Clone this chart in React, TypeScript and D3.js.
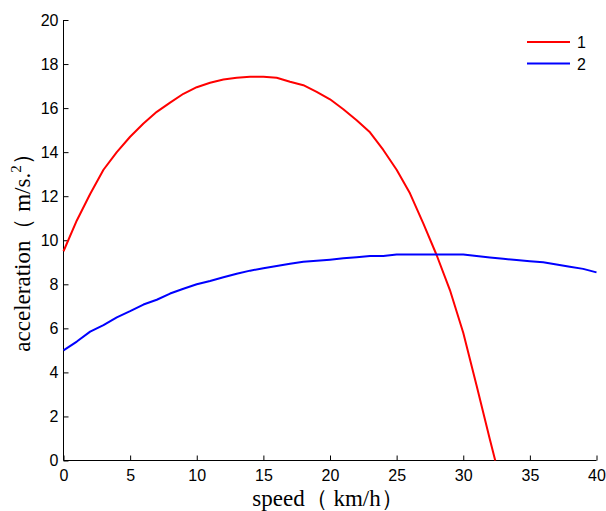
import React, { useRef, useEffect } from 'react'
import * as d3 from 'd3'

const speed1 = [0, 1, 2, 3, 4, 5, 6, 7, 8, 9, 10, 11, 12, 13, 14, 15, 16, 17, 18, 19, 20, 21, 22, 23, 24, 25, 26, 27, 28, 29, 30, 31, 32, 32.4]
const accel1 = [9.5, 10.9, 12.1, 13.2, 14.0, 14.7, 15.3, 15.83, 16.25, 16.65, 16.95, 17.15, 17.3, 17.38, 17.42, 17.42, 17.38, 17.2, 17.04, 16.74, 16.4, 15.95, 15.45, 14.9, 14.1, 13.2, 12.13, 10.77, 9.33, 7.74, 5.8, 3.4, 0.95, 0]

const speed2 = [0, 1, 2, 3, 4, 5, 6, 7, 8, 9, 10, 11, 12, 13, 14, 15, 16, 17, 18, 19, 20, 21, 22, 23, 24, 25, 26, 27, 28, 29, 30, 31, 32, 33, 34, 35, 36, 37, 38, 39, 40]
const accel2 = [5.0, 5.4, 5.85, 6.15, 6.5, 6.78, 7.08, 7.3, 7.58, 7.8, 8.0, 8.15, 8.32, 8.48, 8.62, 8.73, 8.83, 8.93, 9.02, 9.07, 9.12, 9.18, 9.23, 9.28, 9.29, 9.35, 9.35, 9.35, 9.35, 9.35, 9.35, 9.28, 9.22, 9.16, 9.1, 9.05, 9.0, 8.9, 8.8, 8.7, 8.54]

const seriesNames = ['1', '2']
const seriesColors = ['#ff0000', '#0000ff']
const xTicks = [0, 5, 10, 15, 20, 25, 30, 35, 40]
const yTicks = [0, 2, 4, 6, 8, 10, 12, 14, 16, 18, 20]

export default function App() {
  const chartRef = useRef(null)

  useEffect(() => {
    const width = 606
    const height = 511
    const margin = { top: 20, right: 9.5, bottom: 50.5, left: 63.5 }

    const container = d3.select(chartRef.current)
    container.html('')

    const svg = container.append('svg')
      .attr('width', width)
      .attr('height', height)
      .style('display', 'block')
      .style('background', '#fff')

    const x = d3.scaleLinear().domain([0, 40]).range([margin.left, width - margin.right])
    const y = d3.scaleLinear().domain([0, 20]).range([height - margin.bottom, margin.top])

    const tickFont = '"Liberation Sans", Arial, sans-serif'
    const labelFont = '"Liberation Serif", "Times New Roman", serif'

    // axes: only left and bottom, ticks pointing inward
    const xAxis = svg.append('g')
      .attr('transform', `translate(0,${y(0)})`)
      .call(d3.axisBottom(x).tickValues(xTicks).tickSize(-5).tickPadding(9).tickFormat(d3.format('d')))
    const yAxis = svg.append('g')
      .attr('transform', `translate(${x(0)},0)`)
      .call(d3.axisLeft(y).tickValues(yTicks).tickSize(-5).tickPadding(5).tickFormat(d3.format('d')))

    ;[xAxis, yAxis].forEach(ax => {
      ax.select('.domain').attr('stroke', '#000').attr('stroke-width', 1)
      ax.selectAll('.tick line').attr('stroke', '#000')
      ax.selectAll('.tick text')
        .attr('fill', '#000')
        .style('font-family', tickFont)
        .style('font-size', '16px')
    })
    xAxis.select('.domain').attr('d', `M${x(0)},0H${x(40)}`)
    yAxis.select('.domain').attr('d', `M0,${y(0)}V${y(20)}`)

    const line = d3.line()
      .x(d => x(d[0]))
      .y(d => y(d[1]))

    const series = [
      speed1.map((s, i) => [s, accel1[i]]),
      speed2.map((s, i) => [s, accel2[i]])
    ]

    series.forEach((pts, i) => {
      svg.append('path')
        .datum(pts)
        .attr('fill', 'none')
        .attr('stroke', seriesColors[i])
        .attr('stroke-width', 2)
        .attr('stroke-linejoin', 'round')
        .attr('d', line)
    })

    // legend
    const legend = svg.append('g')
    seriesNames.forEach((name, i) => {
      const ly = 42 + i * 21.5
      legend.append('line')
        .attr('x1', 527).attr('x2', 570)
        .attr('y1', ly).attr('y2', ly)
        .attr('stroke', seriesColors[i])
        .attr('stroke-width', 2)
      legend.append('text')
        .attr('x', 577)
        .attr('y', ly + 6)
        .style('font-family', tickFont)
        .style('font-size', '16px')
        .text(name)
    })

    // axis titles
    svg.append('text')
      .attr('x', 328)
      .attr('y', 506)
      .attr('text-anchor', 'middle')
      .style('font-family', labelFont)
      .style('font-size', '23px')
      .text('speed（ km/h）')

    const yl = svg.append('text')
      .attr('transform', 'translate(30,247) rotate(-90)')
      .attr('text-anchor', 'middle')
      .style('font-family', labelFont)
      .style('font-size', '23px')
    yl.append('tspan').text('acceleration（ m/s.')
    yl.append('tspan').attr('dy', -9).style('font-size', '15px').text('2')
    yl.append('tspan').attr('dy', 9).text('）')

    return () => {
      svg.remove()
    }
  }, [])

  return (
    <div ref={chartRef} style={{ position: 'absolute', left: 0, top: 0, width: '606px', height: '511px' }}></div>
  )
}
